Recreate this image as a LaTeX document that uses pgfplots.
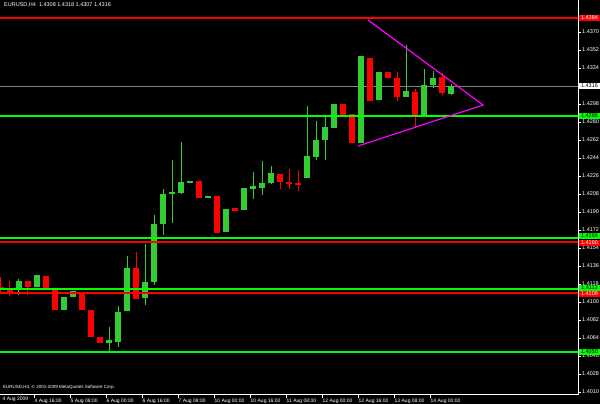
\documentclass[border=0pt]{standalone}
\usepackage{pgfplots}
\pgfplotsset{compat=1.18}
\usepackage{pgfplotstable}
\usepackage{fontspec}
\setmainfont{Liberation Sans}

\definecolor{cgreen}{HTML}{32CD32}
\definecolor{lgreen}{HTML}{00FF00}
\definecolor{rred}{HTML}{FF0000}
\definecolor{mag}{HTML}{FF00FF}
\definecolor{ggrey}{HTML}{808080}

% H4 candles, x = bar number
\pgfplotstableread{
x o h l c
2 1.4112 1.4123 1.4107 1.4121
4 1.4115 1.4127 1.4115 1.4127
7 1.4092 1.4105 1.4092 1.4105
8 1.4105 1.4111 1.4105 1.4111
12 1.4059 1.4075 1.4049 1.4062
13 1.4060 1.4096 1.4055 1.4090
14 1.4091 1.4146 1.4091 1.4134
16 1.4104 1.4158 1.4097 1.4120
17 1.4120 1.4187 1.4117 1.4178
18 1.4178 1.4213 1.4167 1.4208
19 1.4208 1.4242 1.4179 1.4210
20 1.4209 1.4260 1.4208 1.4220
21 1.4219 1.4221 1.4219 1.4221
23 1.4204 1.4206 1.4204 1.4206
25 1.4170 1.4193 1.4170 1.4193
27 1.4192 1.4214 1.4192 1.4214
28 1.4213 1.4230 1.4203 1.4216
29 1.4214 1.4241 1.4207 1.4219
30 1.4219 1.4236 1.4218 1.4229
34 1.4224 1.4296 1.4224 1.4246
35 1.4245 1.4281 1.4242 1.4262
36 1.4262 1.4285 1.4242 1.4275
37 1.4274 1.4298 1.4274 1.4298
40 1.4259 1.4346 1.4259 1.4346
42 1.4302 1.4330 1.4302 1.4330
45 1.4305 1.4357 1.4305 1.4311
47 1.4287 1.4333 1.4287 1.4317
48 1.4317 1.4331 1.4314 1.4324
50 1.4308 1.4318 1.4307 1.4316
}\up

\pgfplotstableread{
x o h l c
0 1.4115 1.4125 1.4109 1.4112
1 1.4113 1.4121 1.4106 1.4110
3 1.4121 1.4121 1.4107 1.4115
5 1.4126 1.4126 1.4112 1.4112
6 1.4113 1.4113 1.4092 1.4092
9 1.4109 1.4109 1.4092 1.4092
10 1.4092 1.4092 1.4065 1.4065
11 1.4065 1.4065 1.4059 1.4059
15 1.4134 1.4150 1.4103 1.4103
22 1.4221 1.4221 1.4204 1.4204
24 1.4206 1.4206 1.4169 1.4169
26 1.4194 1.4194 1.4191 1.4191
31 1.4228 1.4228 1.4213 1.4220
32 1.4220 1.4233 1.4213 1.4218
33 1.4219 1.4232 1.4211 1.4217
38 1.4298 1.4298 1.4287 1.4287
39 1.4288 1.4288 1.4259 1.4259
41 1.4344 1.4344 1.4301 1.4301
43 1.4330 1.4330 1.4324 1.4324
44 1.4324 1.4330 1.4301 1.4305
46 1.4310 1.4313 1.4274 1.4287
49 1.4325 1.4329 1.4307 1.4309
}\dn

\begin{document}
\begin{tikzpicture}[font=\fontsize{5.5}{6}\selectfont]
\useasboundingbox (0,-9pt) rectangle (600pt,395pt);
\fill[black] (0,-9pt) rectangle (600pt,395pt);
\begin{axis}[
    at={(0,0)}, anchor=south west,
    width=578pt, height=395pt, scale only axis,
    xmin=-0.111, xmax=64.111,
    ymin=1.4007, ymax=1.4402,
    axis x line*=bottom, axis y line*=right,
    axis line style={white, line width=1pt},
    tick style={white, line width=0.8pt},
    tick align=outside, major tick length=3pt,
    ytick={1.4010,1.4028,...,1.4370},
    scaled y ticks=false,
    yticklabel style={white, inner sep=1pt},
    y tick label style={/pgf/number format/.cd, fixed, fixed zerofill, precision=4, assume math mode=true},
    xtick={3.667,7.667,...,47.667},
    xticklabels={4 Aug 16:00, 5 Aug 08:00, 6 Aug 00:00, 6 Aug 16:00, 7 Aug 08:00, 10 Aug 00:00,
                 10 Aug 16:00, 11 Aug 08:00, 12 Aug 00:00, 12 Aug 16:00, 13 Aug 08:00, 14 Aug 00:00},
    xticklabel style={white, anchor=north west, inner sep=0.5pt, font=\fontsize{5}{5}\selectfont},
    clip mode=individual,
]
    % bid line
    \addplot[ggrey, line width=0.8pt] coordinates {(-0.111,1.4316) (64.111,1.4316)};

    % wicks
    \addplot[draw=none, mark=none, error bars/.cd, y dir=minus, y explicit, error mark=none,
        error bar style={draw=cgreen, line width=1pt}]
        table[x=x, y=h, y error minus expr=\thisrow{h}-\thisrow{l}] {\up};
    \addplot[draw=none, mark=none, error bars/.cd, y dir=minus, y explicit, error mark=none,
        error bar style={draw=rred, line width=1pt}]
        table[x=x, y=h, y error minus expr=\thisrow{h}-\thisrow{l}] {\dn};
    % bodies
    \addplot[draw=none, mark=none, error bars/.cd, y dir=minus, y explicit, error mark=none,
        error bar style={draw=cgreen, line width=6pt}]
        table[x=x, y=c, y error minus expr=\thisrow{c}-\thisrow{o}] {\up};
    \addplot[draw=none, mark=none, error bars/.cd, y dir=minus, y explicit, error mark=none,
        error bar style={draw=rred, line width=6pt}]
        table[x=x, y=o, y error minus expr=\thisrow{o}-\thisrow{c}] {\dn};

    % support / resistance lines
    \addplot[rred, line width=2.5pt] coordinates {(-0.111,1.4384) (64.111,1.4384)};
    \addplot[lgreen, line width=2.5pt] coordinates {(-0.111,1.4286) (64.111,1.4286)};
    \addplot[lgreen, line width=2.5pt] coordinates {(-0.111,1.4164) (64.111,1.4164)};
    \addplot[rred, line width=2.5pt] coordinates {(-0.111,1.4160) (64.111,1.4160)};
    \addplot[lgreen, line width=2.5pt] coordinates {(-0.111,1.4113) (64.111,1.4113)};
    \addplot[rred, line width=2.5pt] coordinates {(-0.111,1.4109) (64.111,1.4109)};
    \addplot[lgreen, line width=2.5pt] coordinates {(-0.111,1.4050) (64.111,1.4050)};

    % triangle
    \addplot[mag, line width=1.2pt] coordinates {(40.78,1.4382) (53.56,1.4297) (39.67,1.4256)};

    % price boxes on the scale
    \tikzset{pbox/.style={anchor=west, inner sep=0.6pt, minimum width=21pt, minimum height=6pt}}
    \node[pbox, fill=rred, text=white] at (axis cs:64.2,1.4384) {1.4384};
    \node[pbox, fill=white, text=black] at (axis cs:64.2,1.4316) {1.4316};
    \node[pbox, fill=lgreen, text=black] at (axis cs:64.2,1.4286) {1.4286};
    \node[pbox, fill=lgreen, text=black] at (axis cs:64.2,1.4166) {1.4164};
    \node[pbox, fill=rred, text=white] at (axis cs:64.2,1.4159) {1.4160};
    \node[pbox, fill=lgreen, text=black] at (axis cs:64.2,1.4114) {1.4113};
    \node[pbox, fill=rred, text=white] at (axis cs:64.2,1.4108) {1.4109};
    \node[pbox, fill=lgreen, text=black] at (axis cs:64.2,1.4050) {1.4050};

    \node[anchor=north west, text=white, inner sep=0pt] at (rel axis cs:0,1) [xshift=4pt, yshift=-2pt]
        {EURUSD,H4\ \ 1.4308 1.4318 1.4307 1.4316};
    \node[anchor=south west, text=white, inner sep=0pt, font=\fontsize{4.5}{5}\selectfont]
        at (rel axis cs:0,0) [xshift=3pt, yshift=5pt] {EURUSD,H4, © 2001-2009 MetaQuotes Software Corp.};
    \node[anchor=north west, text=white, inner sep=0.5pt, font=\fontsize{5}{5}\selectfont]
        at (rel axis cs:0,0) [xshift=2pt, yshift=-1pt] {4 Aug 2009};
\end{axis}
\end{tikzpicture}
\end{document}
